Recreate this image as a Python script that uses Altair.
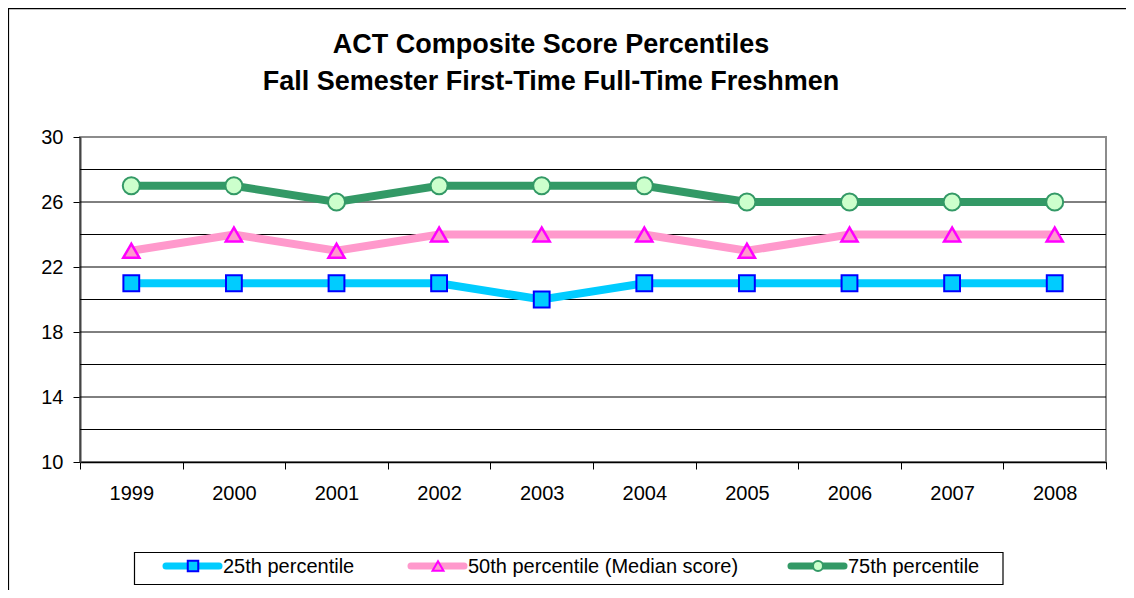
import altair as alt
import pandas as pd

# ---------------- data ----------------
years = ["1999", "2000", "2001", "2002", "2003", "2004", "2005", "2006", "2007", "2008"]
p25 = [21, 21, 21, 21, 20, 21, 21, 21, 21, 21]
p50 = [23, 24, 23, 24, 24, 24, 23, 24, 24, 24]
p75 = [27, 27, 26, 27, 27, 27, 26, 26, 26, 26]
series_names = ["25th percentile", "50th percentile (Median score)", "75th percentile"]
y_ticks = [10, 14, 18, 22, 26, 30]
grid_values = [12, 14, 16, 18, 20, 22, 24, 26, 28]
title_lines = ["ACT Composite Score Percentiles", "Fall Semester First-Time Full-Time Freshmen"]

FONT = "Liberation Sans"
W, H = 1026, 325

styles = [
    dict(line="#00CCFF", fill="#00CCFF", stroke="#0000FF", shape="square", size=250, lsize=110, sw=2),
    dict(line="#FF99CC", fill="#FF99CC", stroke="#FF00FF", shape="triangle-up", size=260, lsize=120, sw=2.5),
    dict(line="#339966", fill="#CCFFCC", stroke="#339966", shape="circle", size=290, lsize=100, sw=2),
]

yscale = alt.Scale(domain=[10, 30], nice=False, zero=False)
yaxis = alt.Axis(values=y_ticks, grid=False, tickSize=7, tickColor="#000", labelPadding=10,
                 labelFontSize=20, labelFont=FONT, labelColor="#000", domainColor="#444",
                 domainWidth=2, title=None)
xscale = alt.Scale(type="band", paddingInner=0, paddingOuter=0, domain=years)
xaxis = alt.Axis(tickBand="extent", tickSize=7, tickColor="#000", labelPadding=14, labelAngle=0,
                 labelFontSize=20, labelFont=FONT, labelColor="#000", domainColor="#000",
                 domainWidth=1.5, title=None)

one = pd.DataFrame({"a": [0]})

# outer chart frame
frame = alt.Chart(one).mark_rect(fill=None, stroke="#000", strokeWidth=1.2).encode(
    x=alt.value(-71.5), x2=alt.value(1200), y=alt.value(-128.4), y2=alt.value(700)
)

grid = alt.Chart(pd.DataFrame({"v": grid_values})).mark_rule(color="#000", strokeWidth=1).encode(
    y=alt.Y("v:Q", scale=yscale, axis=yaxis)
)

layers = [frame, grid]
all_vals = [p25, p50, p75]
for name, vals, st in zip(series_names, all_vals, styles):
    df = pd.DataFrame({"year": years, "value": vals, "series": name})
    base = alt.Chart(df).encode(
        x=alt.X("year:N", scale=xscale, axis=xaxis, bandPosition=0.5, sort=years),
        y=alt.Y("value:Q", scale=yscale, axis=yaxis),
    )
    layers.append(base.mark_line(color=st["line"], strokeWidth=8, strokeJoin="miter"))
for name, vals, st in zip(series_names, all_vals, styles):
    df = pd.DataFrame({"year": years, "value": vals, "series": name})
    base = alt.Chart(df).encode(
        x=alt.X("year:N", scale=xscale, axis=xaxis, bandPosition=0.5, sort=years),
        y=alt.Y("value:Q", scale=yscale, axis=yaxis),
    )
    layers.append(base.mark_point(shape=st["shape"], size=st["size"], filled=True, fill=st["fill"],
                                  stroke=st["stroke"], strokeWidth=st["sw"], opacity=1))

# title as text
for i, t in enumerate(title_lines):
    layers.append(alt.Chart(one).mark_text(font=FONT, fontSize=27, fontWeight="bold", color="#000",
                                           align="center", baseline="alphabetic").encode(
        x=alt.value(471), y=alt.value(-84 + 37 * i), text=alt.value(t)))

# legend box
layers.append(alt.Chart(one).mark_rect(fill="#fff", stroke="#000", strokeWidth=1.2).encode(
    x=alt.value(54.5), x2=alt.value(923), y=alt.value(415.5), y2=alt.value(447.5)))
leg_x = [83, 328, 708]
leg_y = 429
for name, st, lx in zip(series_names, styles, leg_x):
    layers.append(alt.Chart(one).mark_rule(color=st["line"], strokeWidth=7, strokeCap="round").encode(
        x=alt.value(lx + 3), x2=alt.value(lx + 56), y=alt.value(leg_y)))
    layers.append(alt.Chart(one).mark_point(shape=st["shape"], size=st["lsize"], filled=True,
                                            fill=st["fill"], stroke=st["stroke"], strokeWidth=2,
                                            opacity=1).encode(
        x=alt.value(lx + 30), y=alt.value(leg_y)))
    layers.append(alt.Chart(one).mark_text(font=FONT, fontSize=20, color="#000", align="left",
                                           baseline="middle").encode(
        x=alt.value(lx + 60), y=alt.value(leg_y + 1), text=alt.value(name)))

chart = alt.layer(*layers).properties(
    width=W, height=H,
    autosize=alt.AutoSizeParams(type="none"),
    padding={"left": 72, "top": 129, "right": 20, "bottom": 128},
    background="#ffffff",
).configure_view(stroke="#8c8c8c", strokeWidth=2)

chart.save("out.html", embed_options={"renderer": "svg", "actions": False})
